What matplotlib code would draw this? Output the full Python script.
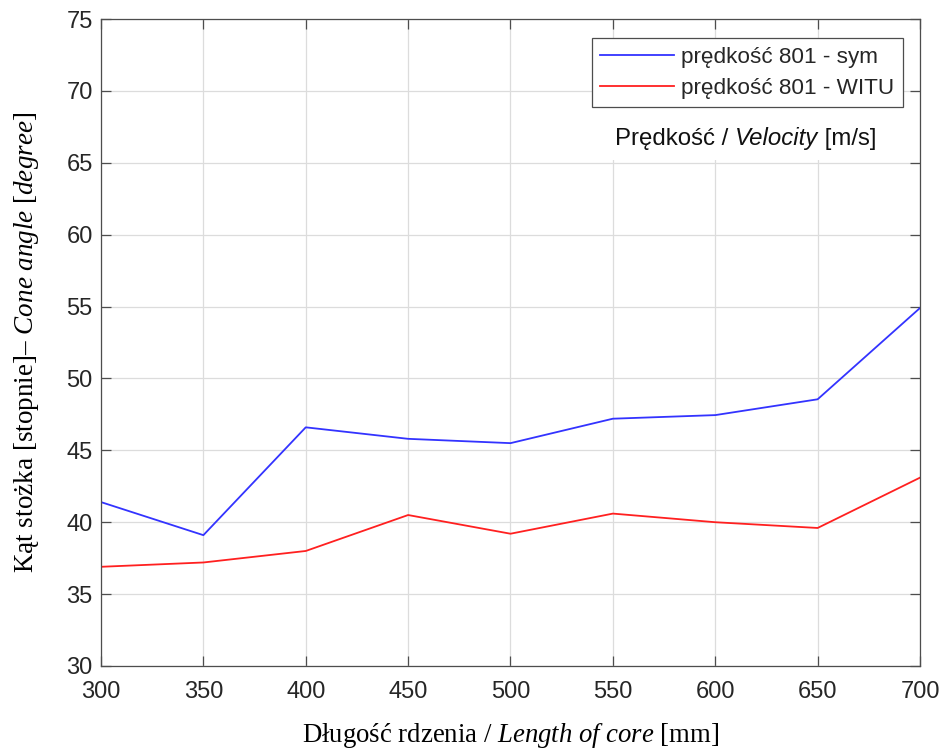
import numpy as np
import matplotlib
matplotlib.use("Agg")
import matplotlib.pyplot as plt

plt.rcParams["mathtext.fontset"] = "custom"
plt.rcParams["mathtext.it"] = "Liberation Serif:italic"
plt.rcParams["mathtext.rm"] = "Liberation Serif"

# dane
dlugosc = [300, 350, 400, 450, 500, 550, 600, 650, 700]
kat_sym = [41.4, 39.1, 46.6, 45.8, 45.5, 47.2, 47.45, 48.55, 54.9]
kat_witu = [36.9, 37.2, 38.0, 40.5, 39.2, 40.6, 40.0, 39.6, 43.1]
y_ticks = [30, 35, 40, 45, 50, 55, 60, 65, 70, 75]
x_ticks = dlugosc

W, H = 945, 751
fig = plt.figure(figsize=(W / 100, H / 100), dpi=100)
ax = fig.add_axes([101 / W, 1 - 666 / H, 819 / W, 647 / H])

ax.plot(dlugosc, kat_sym, color="#3333ff", lw=1.3, label="prędkość 801 - sym")
ax.plot(dlugosc, kat_witu, color="#ff2020", lw=1.3, label="prędkość 801 - WITU")

ax.set_xlim(300, 700)
ax.set_ylim(30, 75)
ax.set_xticks(x_ticks)
ax.set_yticks(y_ticks)
ax.grid(True, color="#dcdcdc", lw=0.9)
ax.set_axisbelow(True)
for s in ax.spines.values():
    s.set_color("#4d4d4d")
    s.set_linewidth(0.9)
ax.tick_params(direction="in", length=7, width=0.9, color="#4d4d4d",
               top=True, right=True, labelsize=17)
ax.tick_params(axis="x", pad=11)
ax.tick_params(axis="y", pad=6)
for lab in ax.get_xticklabels() + ax.get_yticklabels():
    lab.set_fontfamily("Liberation Sans")
    lab.set_color("#262626")

ax.set_xlabel("Długość rdzenia / $\\mathit{Length\\ of\\ core}$ [mm]",
              fontsize=19.3, family="Liberation Serif", labelpad=13)
ax.set_ylabel("Kąt stożka [stopnie]– $\\mathit{Cone\\ angle\\ [degree]}$",
              fontsize=19.5, family="Liberation Serif", labelpad=18)

leg = ax.legend(loc="upper right", bbox_to_anchor=(0.979, 0.9706),
                prop={"family": "Liberation Sans", "size": 16.2},
                fancybox=False, framealpha=1, edgecolor="#4d4d4d",
                handlelength=3.3, borderpad=0.38, labelspacing=0.45,
                handletextpad=0.3, borderaxespad=0)
leg.get_frame().set_linewidth(0.9)
for t in leg.get_texts():
    t.set_color("#262626")

# biale tlo pod opisem predkosci
ax.add_patch(plt.Rectangle((0.5995, 0.782), 0.3795, 0.0835, transform=ax.transAxes,
                           facecolor="white", edgecolor="none", zorder=1.5))

renderer = fig.canvas.get_renderer()
x = 615
y = H - 145
for s, st in [("Prędkość / ", "normal"), ("Velocity", "italic"), (" [m/s]", "normal")]:
    t = fig.text(x / W, y / H, s, style=st, va="baseline", ha="left",
                 fontsize=17.3, family="Liberation Sans", color="#111111")
    x = t.get_window_extent(renderer).x1

fig.savefig("out.png", dpi=100)
